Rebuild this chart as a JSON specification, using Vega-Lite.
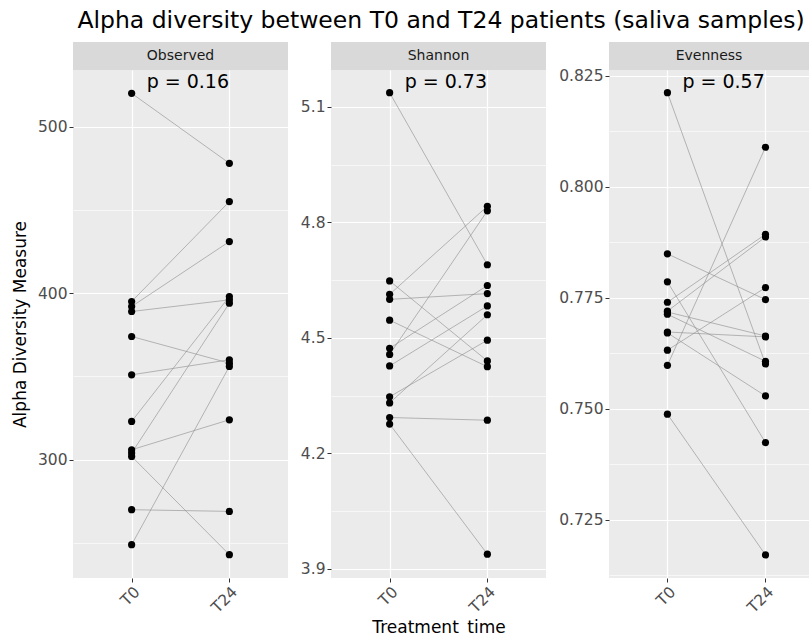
{
  "$schema": "https://vega.github.io/schema/vega-lite/v6.json",
  "padding": {"left": 11, "top": 8, "right": 0, "bottom": 0},
  "background": "white",
  "title": {"text": "Alpha diversity between T0 and T24 patients (saliva samples)", "anchor": "start", "fontSize": 23.5, "font": "DejaVu Sans", "fontWeight": "normal", "color": "black", "offset": 10, "dx": 66},
  "datasets": {
    "alpha": [
      {"measure": "Observed", "id": 1, "time": "T0", "value": 520}, {"measure": "Observed", "id": 1, "time": "T24", "value": 478},
      {"measure": "Observed", "id": 2, "time": "T0", "value": 395}, {"measure": "Observed", "id": 2, "time": "T24", "value": 455},
      {"measure": "Observed", "id": 3, "time": "T0", "value": 392}, {"measure": "Observed", "id": 3, "time": "T24", "value": 431},
      {"measure": "Observed", "id": 4, "time": "T0", "value": 389}, {"measure": "Observed", "id": 4, "time": "T24", "value": 396},
      {"measure": "Observed", "id": 5, "time": "T0", "value": 374}, {"measure": "Observed", "id": 5, "time": "T24", "value": 358},
      {"measure": "Observed", "id": 6, "time": "T0", "value": 351}, {"measure": "Observed", "id": 6, "time": "T24", "value": 360},
      {"measure": "Observed", "id": 7, "time": "T0", "value": 323}, {"measure": "Observed", "id": 7, "time": "T24", "value": 398},
      {"measure": "Observed", "id": 8, "time": "T0", "value": 306}, {"measure": "Observed", "id": 8, "time": "T24", "value": 324},
      {"measure": "Observed", "id": 9, "time": "T0", "value": 304}, {"measure": "Observed", "id": 9, "time": "T24", "value": 394},
      {"measure": "Observed", "id": 10, "time": "T0", "value": 302}, {"measure": "Observed", "id": 10, "time": "T24", "value": 243},
      {"measure": "Observed", "id": 11, "time": "T0", "value": 270}, {"measure": "Observed", "id": 11, "time": "T24", "value": 269},
      {"measure": "Observed", "id": 12, "time": "T0", "value": 249}, {"measure": "Observed", "id": 12, "time": "T24", "value": 356},
      {"measure": "Shannon", "id": 1, "time": "T0", "value": 5.137}, {"measure": "Shannon", "id": 1, "time": "T24", "value": 4.690},
      {"measure": "Shannon", "id": 2, "time": "T0", "value": 4.648}, {"measure": "Shannon", "id": 2, "time": "T24", "value": 4.440},
      {"measure": "Shannon", "id": 3, "time": "T0", "value": 4.613}, {"measure": "Shannon", "id": 3, "time": "T24", "value": 4.842},
      {"measure": "Shannon", "id": 4, "time": "T0", "value": 4.600}, {"measure": "Shannon", "id": 4, "time": "T24", "value": 4.615},
      {"measure": "Shannon", "id": 5, "time": "T0", "value": 4.546}, {"measure": "Shannon", "id": 5, "time": "T24", "value": 4.425},
      {"measure": "Shannon", "id": 6, "time": "T0", "value": 4.473}, {"measure": "Shannon", "id": 6, "time": "T24", "value": 4.636},
      {"measure": "Shannon", "id": 7, "time": "T0", "value": 4.457}, {"measure": "Shannon", "id": 7, "time": "T24", "value": 4.830},
      {"measure": "Shannon", "id": 8, "time": "T0", "value": 4.427}, {"measure": "Shannon", "id": 8, "time": "T24", "value": 4.583},
      {"measure": "Shannon", "id": 9, "time": "T0", "value": 4.347}, {"measure": "Shannon", "id": 9, "time": "T24", "value": 4.494},
      {"measure": "Shannon", "id": 10, "time": "T0", "value": 4.331}, {"measure": "Shannon", "id": 10, "time": "T24", "value": 4.560},
      {"measure": "Shannon", "id": 11, "time": "T0", "value": 4.293}, {"measure": "Shannon", "id": 11, "time": "T24", "value": 4.286},
      {"measure": "Shannon", "id": 12, "time": "T0", "value": 4.276}, {"measure": "Shannon", "id": 12, "time": "T24", "value": 3.938},
      {"measure": "Evenness", "id": 1, "time": "T0", "value": 0.8212}, {"measure": "Evenness", "id": 1, "time": "T24", "value": 0.7601},
      {"measure": "Evenness", "id": 2, "time": "T0", "value": 0.7849}, {"measure": "Evenness", "id": 2, "time": "T24", "value": 0.7746},
      {"measure": "Evenness", "id": 3, "time": "T0", "value": 0.7786}, {"measure": "Evenness", "id": 3, "time": "T24", "value": 0.7424},
      {"measure": "Evenness", "id": 4, "time": "T0", "value": 0.7740}, {"measure": "Evenness", "id": 4, "time": "T24", "value": 0.7893},
      {"measure": "Evenness", "id": 5, "time": "T0", "value": 0.7720}, {"measure": "Evenness", "id": 5, "time": "T24", "value": 0.7887},
      {"measure": "Evenness", "id": 6, "time": "T0", "value": 0.7718}, {"measure": "Evenness", "id": 6, "time": "T24", "value": 0.7664},
      {"measure": "Evenness", "id": 7, "time": "T0", "value": 0.7713}, {"measure": "Evenness", "id": 7, "time": "T24", "value": 0.7607},
      {"measure": "Evenness", "id": 8, "time": "T0", "value": 0.7673}, {"measure": "Evenness", "id": 8, "time": "T24", "value": 0.7662},
      {"measure": "Evenness", "id": 9, "time": "T0", "value": 0.7671}, {"measure": "Evenness", "id": 9, "time": "T24", "value": 0.7529},
      {"measure": "Evenness", "id": 10, "time": "T0", "value": 0.7632}, {"measure": "Evenness", "id": 10, "time": "T24", "value": 0.7773},
      {"measure": "Evenness", "id": 11, "time": "T0", "value": 0.7598}, {"measure": "Evenness", "id": 11, "time": "T24", "value": 0.8089},
      {"measure": "Evenness", "id": 12, "time": "T0", "value": 0.7488}, {"measure": "Evenness", "id": 12, "time": "T24", "value": 0.7171}
    ],
    "plabels": [
      {"measure": "Observed", "time": "T0", "y": 527, "label": "p = 0.16"},
      {"measure": "Shannon", "time": "T0", "y": 5.165, "label": "p = 0.73"},
      {"measure": "Evenness", "time": "T0", "y": 0.8236, "label": "p = 0.57"}
    ],
    "strips": [
      {"measure": "Observed"}, {"measure": "Shannon"}, {"measure": "Evenness"}
    ]
  },
  "spacing": 12,
  "hconcat": [
    {
      "spacing": 0, "bounds": "flush",
      "vconcat": [
        {"width": 215, "height": 28, "view": {"fill": "#D9D9D9", "stroke": null},
         "data": {"name": "strips"}, "transform": [{"filter": "datum.measure === 'Observed'"}],
         "mark": {"type": "text", "fontSize": 14, "color": "#1A1A1A", "font": "DejaVu Sans"},
         "encoding": {"text": {"field": "measure"}}},
        {"width": 215, "height": 508, "view": {"fill": "#EBEBEB", "stroke": null},
         "resolve": {"axis": {"y": "independent"}},
         "encoding": {
           "x": {"field": "time", "type": "nominal", "scale": {"type": "point", "domain": ["T0", "T24"], "padding": 0.6}, "axis": {"title": null, "labelAngle": -45, "grid": true}}
         },
         "layer": [
           {"data": {"name": "alpha"}, "transform": [{"filter": "datum.measure === 'Observed'"}],
            "mark": {"type": "line", "color": "#8C8C8C", "strokeWidth": 0.6},
            "encoding": {
              "y": {"field": "value", "type": "quantitative", "scale": {"domain": [229, 534], "zero": false, "nice": false}, "axis": {"title": "Alpha Diversity Measure", "values": [300, 400, 500], "format": "d", "grid": true, "titlePadding": 8}},
              "detail": {"field": "id"}}},
           {"data": {"name": "alpha"}, "transform": [{"filter": "datum.measure === 'Observed'"}],
            "mark": {"type": "circle", "size": 52, "color": "black", "opacity": 1},
            "encoding": {
              "y": {"field": "value", "type": "quantitative", "scale": {"domain": [229, 534], "zero": false, "nice": false}, "axis": {"orient": "right", "values": [250, 350, 450], "grid": true, "gridWidth": 0.6, "labels": false, "ticks": false, "domain": false, "title": null}}}},
           {"data": {"name": "plabels"}, "transform": [{"filter": "datum.measure === 'Observed'"}],
            "mark": {"type": "text", "align": "left", "baseline": "middle", "dx": 15, "fontSize": 19, "color": "black", "font": "DejaVu Sans"},
            "encoding": {
              "y": {"field": "y", "type": "quantitative", "scale": {"domain": [229, 534], "zero": false, "nice": false}, "axis": null},
              "text": {"field": "label"}}}
         ]}
      ]
    },
    {
      "spacing": 0, "bounds": "flush",
      "vconcat": [
        {"width": 215, "height": 28, "view": {"fill": "#D9D9D9", "stroke": null},
         "data": {"name": "strips"}, "transform": [{"filter": "datum.measure === 'Shannon'"}],
         "mark": {"type": "text", "fontSize": 14, "color": "#1A1A1A", "font": "DejaVu Sans"},
         "encoding": {"text": {"field": "measure"}}},
        {"width": 215, "height": 508, "view": {"fill": "#EBEBEB", "stroke": null},
         "resolve": {"axis": {"y": "independent"}},
         "encoding": {
           "x": {"field": "time", "type": "nominal", "scale": {"type": "point", "domain": ["T0", "T24"], "padding": 0.6}, "axis": {"title": "Treatment_time", "labelAngle": -45, "grid": true, "titlePadding": 4}}
         },
         "layer": [
           {"data": {"name": "alpha"}, "transform": [{"filter": "datum.measure === 'Shannon'"}],
            "mark": {"type": "line", "color": "#8C8C8C", "strokeWidth": 0.6},
            "encoding": {
              "y": {"field": "value", "type": "quantitative", "scale": {"domain": [3.876, 5.196], "zero": false, "nice": false}, "axis": {"title": null, "values": [3.9, 4.2, 4.5, 4.8, 5.1], "format": ".1f", "grid": true}},
              "detail": {"field": "id"}}},
           {"data": {"name": "alpha"}, "transform": [{"filter": "datum.measure === 'Shannon'"}],
            "mark": {"type": "circle", "size": 52, "color": "black", "opacity": 1},
            "encoding": {
              "y": {"field": "value", "type": "quantitative", "scale": {"domain": [3.876, 5.196], "zero": false, "nice": false}, "axis": {"orient": "right", "values": [4.05, 4.35, 4.65, 4.95], "grid": true, "gridWidth": 0.6, "labels": false, "ticks": false, "domain": false, "title": null}}}},
           {"data": {"name": "plabels"}, "transform": [{"filter": "datum.measure === 'Shannon'"}],
            "mark": {"type": "text", "align": "left", "baseline": "middle", "dx": 15, "fontSize": 19, "color": "black", "font": "DejaVu Sans"},
            "encoding": {
              "y": {"field": "y", "type": "quantitative", "scale": {"domain": [3.876, 5.196], "zero": false, "nice": false}, "axis": null},
              "text": {"field": "label"}}}
         ]}
      ]
    },
    {
      "spacing": 0, "bounds": "flush",
      "vconcat": [
        {"width": 200, "height": 28, "view": {"fill": "#D9D9D9", "stroke": null},
         "data": {"name": "strips"}, "transform": [{"filter": "datum.measure === 'Evenness'"}],
         "mark": {"type": "text", "fontSize": 14, "color": "#1A1A1A", "font": "DejaVu Sans"},
         "encoding": {"text": {"field": "measure"}}},
        {"width": 200, "height": 508, "view": {"fill": "#EBEBEB", "stroke": null},
         "resolve": {"axis": {"y": "independent"}},
         "encoding": {
           "x": {"field": "time", "type": "nominal", "scale": {"type": "point", "domain": ["T0", "T24"], "padding": 0.52, "align": 0.573}, "axis": {"title": null, "labelAngle": -45, "grid": true}}
         },
         "layer": [
           {"data": {"name": "alpha"}, "transform": [{"filter": "datum.measure === 'Evenness'"}],
            "mark": {"type": "line", "color": "#8C8C8C", "strokeWidth": 0.6},
            "encoding": {
              "y": {"field": "value", "type": "quantitative", "scale": {"domain": [0.7119, 0.8263], "zero": false, "nice": false}, "axis": {"title": null, "values": [0.725, 0.75, 0.775, 0.8, 0.825], "format": ".3f", "grid": true}},
              "detail": {"field": "id"}}},
           {"data": {"name": "alpha"}, "transform": [{"filter": "datum.measure === 'Evenness'"}],
            "mark": {"type": "circle", "size": 52, "color": "black", "opacity": 1},
            "encoding": {
              "y": {"field": "value", "type": "quantitative", "scale": {"domain": [0.7119, 0.8263], "zero": false, "nice": false}, "axis": {"orient": "right", "values": [0.7125, 0.7375, 0.7625, 0.7875, 0.8125], "grid": true, "gridWidth": 0.6, "labels": false, "ticks": false, "domain": false, "title": null}}}},
           {"data": {"name": "plabels"}, "transform": [{"filter": "datum.measure === 'Evenness'"}],
            "mark": {"type": "text", "align": "left", "baseline": "middle", "dx": 15, "fontSize": 19, "color": "black", "font": "DejaVu Sans"},
            "encoding": {
              "y": {"field": "y", "type": "quantitative", "scale": {"domain": [0.7119, 0.8263], "zero": false, "nice": false}, "axis": null},
              "text": {"field": "label"}}}
         ]}
      ]
    }
  ],
  "config": {
    "font": "DejaVu Sans",
    "view": {"stroke": null},
    "axis": {"labelFont": "DejaVu Sans", "labelFontSize": 15.5, "labelColor": "#4D4D4D", "tickColor": "#333333", "tickSize": 4, "domain": false, "gridColor": "white", "gridWidth": 1.2, "titleFont": "DejaVu Sans", "titleFontSize": 17, "titleFontWeight": "normal", "titleColor": "black", "labelPadding": 2}
  }
}
